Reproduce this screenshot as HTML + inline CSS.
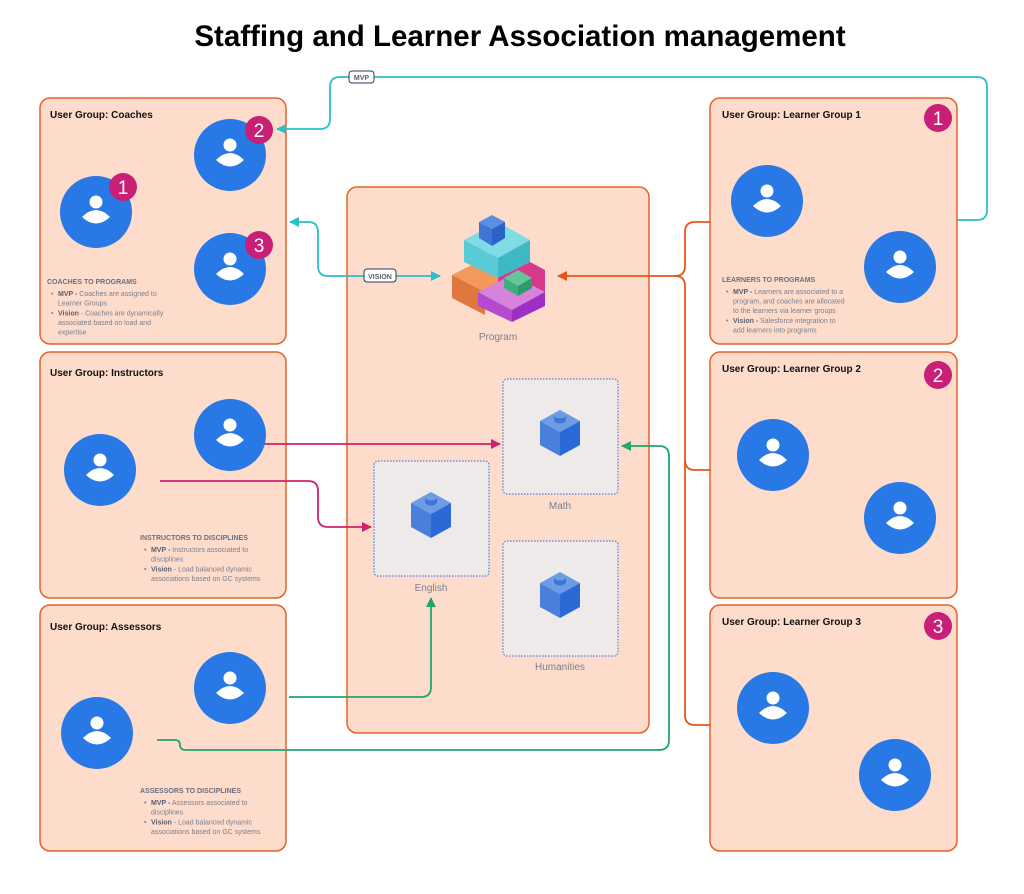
<!DOCTYPE html>
<html><head><meta charset="utf-8"><style>
html,body{margin:0;padding:0;background:#fff;}
svg{display:block;font-family:"Liberation Sans",sans-serif;}
</style></head><body>
<svg width="1024" height="894" viewBox="0 0 1024 894" xmlns="http://www.w3.org/2000/svg">
<defs>
<symbol id="av" viewBox="-36 -36 72 72" overflow="visible">
<circle r="36" fill="#2878e6"/>
<circle cy="-10" r="6.5" fill="#fff"/>
<path d="M-14 5 Q0 -9 14 5 Q0 18 -14 5Z" fill="#fff"/>
</symbol>
<symbol id="cube" viewBox="0 0 40 46" overflow="visible">
<polygon points="20,0 40,11 20,22 0,11" fill="#6d9ce6"/>
<polygon points="0,11 20,22 20,46 0,35" fill="#4a80dc"/>
<polygon points="40,11 20,22 20,46 40,35" fill="#2a6ad6"/>
<ellipse cx="20" cy="10" rx="6" ry="3.5" fill="#3f76d6"/>
<rect x="14" y="5" width="12" height="5" fill="#3f76d6"/>
<ellipse cx="20" cy="5" rx="6" ry="3.5" fill="#6d9ce6"/>
</symbol>
<marker id="aT" markerWidth="10" markerHeight="10" refX="9" refY="5" orient="auto" markerUnits="userSpaceOnUse"><path d="M0,0 L10,5 L0,10Z" fill="#2bbfc8"/></marker>
<marker id="aO" markerWidth="10" markerHeight="10" refX="9" refY="5" orient="auto" markerUnits="userSpaceOnUse"><path d="M0,0 L10,5 L0,10Z" fill="#e5561a"/></marker>
<marker id="aP" markerWidth="10" markerHeight="10" refX="9" refY="5" orient="auto" markerUnits="userSpaceOnUse"><path d="M0,0 L10,5 L0,10Z" fill="#d0216f"/></marker>
<marker id="aG" markerWidth="10" markerHeight="10" refX="9" refY="5" orient="auto" markerUnits="userSpaceOnUse"><path d="M0,0 L10,5 L0,10Z" fill="#25a46c"/></marker>
</defs>

<text x="520" y="46" text-anchor="middle" font-size="29.5" font-weight="bold" fill="#000">Staffing and Learner Association management</text>

<g fill="#fddccb" stroke="#e3622a" stroke-width="1.5">
<rect x="40" y="98" width="246" height="246" rx="10"/>
<rect x="40" y="352" width="246" height="246" rx="10"/>
<rect x="40" y="605" width="246" height="246" rx="10"/>
<rect x="347" y="187" width="302" height="546" rx="10"/>
<rect x="710" y="98" width="247" height="246" rx="10"/>
<rect x="710" y="352" width="247" height="246" rx="10"/>
<rect x="710" y="605" width="247" height="246" rx="10"/>
</g>

<g font-size="10" font-weight="bold" fill="#111">
<text x="50" y="118">User Group: Coaches</text>
<text x="50" y="376">User Group: Instructors</text>
<text x="50" y="630">User Group: Assessors</text>
<text x="722" y="118">User Group: Learner Group 1</text>
<text x="722" y="372">User Group: Learner Group 2</text>
<text x="722" y="625">User Group: Learner Group 3</text>
</g>

<g fill="#efeaea" stroke="#4a7fe0" stroke-width="1.2" stroke-dasharray="1.5 1.5">
<rect x="503" y="379" width="115" height="115" rx="4"/>
<rect x="374" y="461" width="115" height="115" rx="4"/>
<rect x="503" y="541" width="115" height="115" rx="4"/>
</g>
<use href="#cube" x="540" y="410" width="40" height="46"/>
<use href="#cube" x="411" y="492" width="40" height="46"/>
<use href="#cube" x="540" y="572" width="40" height="46"/>
<g font-size="10" fill="#7b7f8e" text-anchor="middle">
<text x="560" y="509">Math</text>
<text x="431" y="591">English</text>
<text x="560" y="670">Humanities</text>
<text x="498" y="340">Program</text>
</g>

<g>
<polygon points="452,275 485,258 518,275 485,292" fill="#f29a5e"/>
<polygon points="452,275 485,292 485,315 452,298" fill="#e0773f"/>
<polygon points="464,240 498,222 530,240 498,258" fill="#7fdce4"/>
<polygon points="464,240 498,258 498,278 464,262" fill="#58cbd6"/>
<polygon points="530,240 498,258 498,278 530,262" fill="#3fb8c6"/>
<polygon points="498,278 530,262 545,270 545,292 512,310 498,300" fill="#d63a8a"/>
<polygon points="478,292 512,275 545,292 512,310" fill="#d783dc"/>
<polygon points="478,292 512,310 512,322 478,306" fill="#b54ad0"/>
<polygon points="545,292 512,310 512,322 545,306" fill="#9d2fc4"/>
<polygon points="504,278 518,270 532,278 518,286" fill="#63c79a"/>
<polygon points="504,278 518,286 518,296 504,288" fill="#3fae7a"/>
<polygon points="532,278 518,286 518,296 532,288" fill="#2f9a69"/>
<polygon points="479,222 492,215 505,222 492,229" fill="#5a8ee0"/>
<polygon points="479,222 492,229 492,246 479,238" fill="#3f76d6"/>
<polygon points="505,222 492,229 492,246 505,238" fill="#2a62c8"/>
</g>

<g fill="none" stroke-width="1.8">
<path d="M957,220 H977 Q987,220 987,210 V87 Q987,77 977,77 H340 Q330,77 330,87 V119 Q330,129 320,129 H277" stroke="#2bbfc8" marker-end="url(#aT)"/>
<path d="M440,276 H328 Q318,276 318,266 V232 Q318,222 308,222 H290" stroke="#2bbfc8" marker-end="url(#aT)"/>
<path d="M430,276 H440" stroke="#2bbfc8" marker-end="url(#aT)"/>
<path d="M710,222 H695 Q685,222 685,232 V266 Q685,276 675,276 H558" stroke="#e5561a" marker-end="url(#aO)"/>
<path d="M675,276 Q685,276 685,286 V460 Q685,470 695,470 H710" stroke="#e5561a"/>
<path d="M685,460 V715 Q685,725 695,725 H710" stroke="#e5561a"/>
<path d="M248,444 H500" stroke="#d0216f" marker-end="url(#aP)"/>
<path d="M160,481 H308 Q318,481 318,491 V517 Q318,527 328,527 H371" stroke="#d0216f" marker-end="url(#aP)"/>
<path d="M289,697 H421 Q431,697 431,687 V598" stroke="#25a46c" marker-end="url(#aG)"/>
<path d="M157,740 H175 Q180,740 180,745 Q180,750 186,750 H659 Q669,750 669,740 V456 Q669,446 659,446 H622" stroke="#25a46c" marker-end="url(#aG)"/>
</g>

<g font-size="7" font-weight="bold" fill="#5a6070" text-anchor="middle">
<rect x="349" y="71" width="25" height="12" rx="3" fill="#fff" stroke="#2b3a55" stroke-width="1"/>
<text x="361.5" y="80">MVP</text>
<rect x="364" y="269" width="32" height="13" rx="3" fill="#fff" stroke="#2b3a55" stroke-width="1"/>
<text x="380" y="279">VISION</text>
</g>

<use href="#av" x="60" y="176" width="72" height="72"/>
<use href="#av" x="194" y="119" width="72" height="72"/>
<use href="#av" x="194" y="233" width="72" height="72"/>
<use href="#av" x="64" y="434" width="72" height="72"/>
<use href="#av" x="194" y="399" width="72" height="72"/>
<use href="#av" x="61" y="697" width="72" height="72"/>
<use href="#av" x="194" y="652" width="72" height="72"/>
<use href="#av" x="731" y="165" width="72" height="72"/>
<use href="#av" x="864" y="231" width="72" height="72"/>
<use href="#av" x="737" y="419" width="72" height="72"/>
<use href="#av" x="864" y="482" width="72" height="72"/>
<use href="#av" x="737" y="672" width="72" height="72"/>
<use href="#av" x="859" y="739" width="72" height="72"/>

<g fill="#c81f77">
<circle cx="123" cy="187" r="14"/>
<circle cx="259" cy="130" r="14"/>
<circle cx="259" cy="245" r="14"/>
<circle cx="938" cy="118" r="14"/>
<circle cx="938" cy="375" r="14"/>
<circle cx="938" cy="626" r="14"/>
</g>
<g fill="#fff" font-size="19" text-anchor="middle">
<text x="123" y="194">1</text>
<text x="259" y="137">2</text>
<text x="259" y="252">3</text>
<text x="938" y="125">1</text>
<text x="938" y="382">2</text>
<text x="938" y="633">3</text>
</g>

<g font-size="7" fill="#7b7f8e">
<text x="47" y="284" font-weight="bold" fill="#6a6f80">COACHES TO PROGRAMS</text>
<text x="51" y="296">•</text><text x="58" y="296"><tspan font-weight="bold" fill="#5a6070">MVP -</tspan> Coaches are assigned to</text>
<text x="58" y="305.5">Learner Groups</text>
<text x="51" y="315.5">•</text><text x="58" y="315.5"><tspan font-weight="bold" fill="#5a6070">Vision</tspan> - Coaches are dynamically</text>
<text x="58" y="325">associated based on load and</text>
<text x="58" y="334.5">expertise</text>

<text x="140" y="540" font-weight="bold" fill="#6a6f80">INSTRUCTORS TO DISCIPLINES</text>
<text x="144" y="552">•</text><text x="151" y="552"><tspan font-weight="bold" fill="#5a6070">MVP -</tspan> Instructors associated to</text>
<text x="151" y="561.5">disciplines</text>
<text x="144" y="571.5">•</text><text x="151" y="571.5"><tspan font-weight="bold" fill="#5a6070">Vision</tspan> - Load balanced dynamic</text>
<text x="151" y="581">associations based on GC systems</text>

<text x="140" y="793" font-weight="bold" fill="#6a6f80">ASSESSORS TO DISCIPLINES</text>
<text x="144" y="805">•</text><text x="151" y="805"><tspan font-weight="bold" fill="#5a6070">MVP -</tspan> Assessors associated to</text>
<text x="151" y="814.5">disciplines</text>
<text x="144" y="824.5">•</text><text x="151" y="824.5"><tspan font-weight="bold" fill="#5a6070">Vision</tspan> - Load balanced dynamic</text>
<text x="151" y="834">associations based on GC systems</text>

<text x="722" y="282" font-weight="bold" fill="#6a6f80">LEARNERS TO PROGRAMS</text>
<text x="726" y="294">•</text><text x="733" y="294"><tspan font-weight="bold" fill="#5a6070">MVP -</tspan> Learners are associated to a</text>
<text x="733" y="303.5">program, and coaches are allocated</text>
<text x="733" y="313">to the learners via learner groups</text>
<text x="726" y="323">•</text><text x="733" y="323"><tspan font-weight="bold" fill="#5a6070">Vision -</tspan>  Salesforce integration to</text>
<text x="733" y="332.5">add learners into programs</text>
</g>
</svg>
</body></html>
